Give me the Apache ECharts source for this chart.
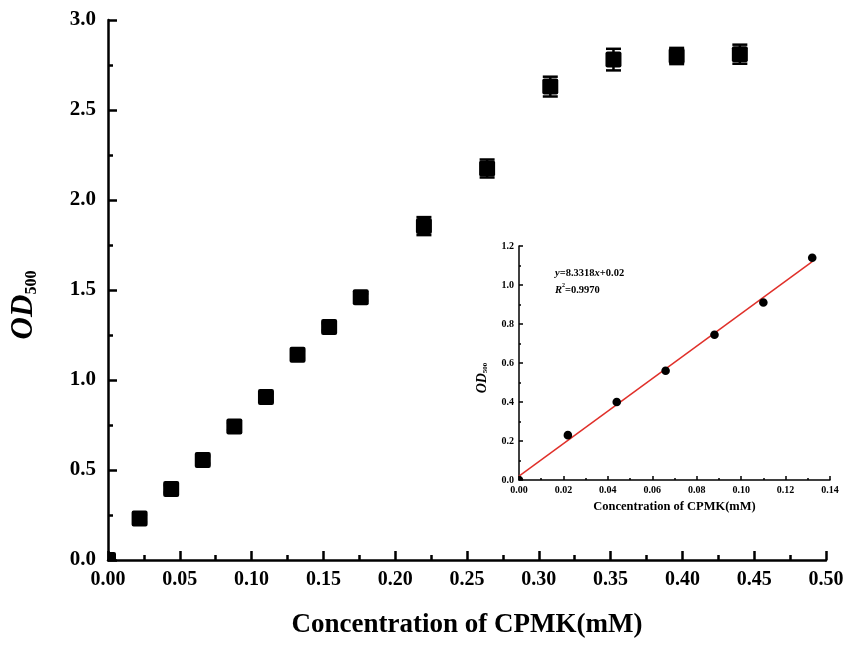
<!DOCTYPE html>
<html><head><meta charset="utf-8">
<script src="https://cdn.jsdelivr.net/npm/echarts@6/dist/echarts.min.js"></script>
<style>html,body{margin:0;padding:0;background:#fff}#c{width:858px;height:646px}</style>
</head><body><div id="c"></div>
<script>
// Main plot data
const mainX   = [0, 0.022, 0.044, 0.066, 0.088, 0.110, 0.132, 0.154, 0.176, 0.220, 0.264, 0.308, 0.352, 0.396, 0.440];
const mainY   = [0, 0.23, 0.395, 0.556, 0.742, 0.905, 1.14, 1.295, 1.46, 1.855, 2.175, 2.63, 2.78, 2.80, 2.81];
const mainErr = [0, 0.02, 0.02, 0.02, 0.02, 0.02, 0.02, 0.02, 0.02, 0.05, 0.05, 0.055, 0.06, 0.045, 0.053];
// Inset data
const insetX = [0, 0.022, 0.044, 0.066, 0.088, 0.110, 0.132];
const insetY = [0, 0.23, 0.40, 0.56, 0.745, 0.91, 1.14];
const fitX = [0, 0.132];
const fitY = [0.02, 1.12];
// Texts
const mainXName = 'Concentration of CPMK(mM)';
const insetXName = 'Concentration of CPMK(mM)';
const r2Text = '0.9970';

const serif = '"Liberation Serif","Times New Roman",serif';

const mainData = mainX.map((x, i) => [x, mainY[i], mainErr[i]]);
const insetData = insetX.map((x, i) => [x, insetY[i]]);
const fitData = fitX.map((x, i) => [x, fitY[i]]);

function axisCommon(lw, tickLen, minorLen, fs) {
  return {
    axisLine: {show: true, onZero: false, lineStyle: {color: '#000', width: lw}},
    axisTick: {show: true, inside: true, length: tickLen, lineStyle: {color: '#000', width: lw}},
    minorTick: {show: true, splitNumber: 2, length: minorLen, lineStyle: {color: '#000', width: lw}},
    splitLine: {show: false},
    axisLabel: {color: '#000', fontFamily: serif, fontWeight: 'bold', fontSize: fs}
  };
}

const chart = echarts.init(document.getElementById('c'));
chart.setOption({
  backgroundColor: '#fff',
  animation: false,
  grid: [
    {left: 108, right: 32, top: 20, bottom: 86},
    {left: 519, right: 28, top: 246, bottom: 166}
  ],
  xAxis: [
    Object.assign(axisCommon(2.5, 9, 5, 20), {
      gridIndex: 0, type: 'value', min: 0, max: 0.5, interval: 0.05,
      name: mainXName, nameLocation: 'middle', nameGap: 52,
      nameTextStyle: {color: '#000', fontFamily: serif, fontWeight: 'bold', fontSize: 27},
      axisLabel: {color: '#000', fontFamily: serif, fontWeight: 'bold', fontSize: 20, margin: 10,
        formatter: v => v.toFixed(2)}
    }),
    Object.assign(axisCommon(1.5, 4, 2, 10), {
      gridIndex: 1, type: 'value', min: 0, max: 0.14, interval: 0.02,
      name: insetXName, nameLocation: 'middle', nameGap: 20,
      nameTextStyle: {color: '#000', fontFamily: serif, fontWeight: 'bold', fontSize: 12.5},
      axisLabel: {color: '#000', fontFamily: serif, fontWeight: 'bold', fontSize: 10, margin: 5,
        formatter: v => v.toFixed(2)}
    })
  ],
  yAxis: [
    Object.assign(axisCommon(2.5, 9, 5, 21), {
      gridIndex: 0, type: 'value', min: 0, max: 3, interval: 0.5,
      name: '{a|OD}{b|500}', nameLocation: 'middle', nameGap: 68, nameRotate: 90,
      nameTextStyle: {
        padding: [0, 30, 0, 0],
        rich: {
          a: {color: '#000', fontFamily: serif, fontWeight: 'bold', fontStyle: 'italic', fontSize: 31},
          b: {color: '#000', fontFamily: serif, fontWeight: 'bold', fontSize: 16, padding: [16, 0, 0, 0]}
        }
      },
      axisLabel: {color: '#000', fontFamily: serif, fontWeight: 'bold', fontSize: 21, margin: 12,
        formatter: v => v.toFixed(1)}
    }),
    Object.assign(axisCommon(1.5, 4, 2, 10), {
      gridIndex: 1, type: 'value', min: 0, max: 1.2, interval: 0.2,
      name: '{a|OD}{b|500}', nameLocation: 'middle', nameGap: 30, nameRotate: 90,
      nameTextStyle: {
        padding: [0, 30, 0, 0],
        rich: {
          a: {color: '#000', fontFamily: serif, fontWeight: 'bold', fontStyle: 'italic', fontSize: 14},
          b: {color: '#000', fontFamily: serif, fontWeight: 'bold', fontSize: 7, padding: [7, 0, 0, 0]}
        }
      },
      axisLabel: {color: '#000', fontFamily: serif, fontWeight: 'bold', fontSize: 10, margin: 5,
        formatter: v => v.toFixed(1)}
    })
  ],
  series: [
    {
      type: 'custom', xAxisIndex: 0, yAxisIndex: 0, clip: true, z: 3,
      data: mainData,
      renderItem: function (params, api) {
        const x = api.value(0), y = api.value(1), e = api.value(2);
        const c = api.coord([x, y]);
        const t = api.coord([x, y + e]);
        const b = api.coord([x, y - e]);
        const s = 16, cw = 7.5;
        const st = {stroke: '#000', lineWidth: 2.5};
        return {type: 'group', children: [
          {type: 'line', shape: {x1: c[0], y1: t[1], x2: c[0], y2: b[1]}, style: st},
          {type: 'line', shape: {x1: c[0] - cw, y1: t[1], x2: c[0] + cw, y2: t[1]}, style: st},
          {type: 'line', shape: {x1: c[0] - cw, y1: b[1], x2: c[0] + cw, y2: b[1]}, style: st},
          {type: 'rect', shape: {x: c[0] - s / 2, y: c[1] - s / 2, width: s, height: s, r: 2}, style: {fill: '#000'}}
        ]};
      }
    },
    {
      type: 'line', xAxisIndex: 1, yAxisIndex: 1, data: fitData, symbol: 'none',
      lineStyle: {color: '#e0302a', width: 1.5}, z: 3
    },
    {
      type: 'custom', xAxisIndex: 1, yAxisIndex: 1, clip: true, z: 4,
      data: insetData,
      renderItem: function (params, api) {
        const c = api.coord([api.value(0), api.value(1)]);
        return {type: 'circle', shape: {cx: c[0], cy: c[1], r: 4.3}, style: {fill: '#000'}};
      }
    }
  ],
  graphic: [
    {
      type: 'text', left: 555, top: 268,
      style: {
        text: '{i|y}{n|=8.3318}{i|x}{n|+0.02}\n{i|R}{s|2}{n|=' + r2Text + '}',
        rich: {
          i: {fontFamily: serif, fontWeight: 'bold', fontStyle: 'italic', fontSize: 10.5, fill: '#000', lineHeight: 17},
          n: {fontFamily: serif, fontWeight: 'bold', fontSize: 10.5, fill: '#000', lineHeight: 17},
          s: {fontFamily: serif, fontWeight: 'bold', fontSize: 6, fill: '#000', verticalAlign: 'top', padding: [0, 0, 6, 0], lineHeight: 17}
        }
      }
    }
  ]
});
</script>
</body></html>
